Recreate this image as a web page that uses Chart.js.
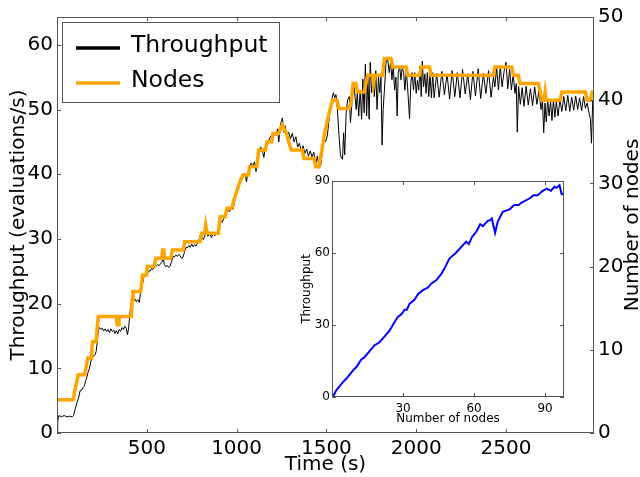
<!DOCTYPE html>
<html>
<head>
<meta charset="utf-8">
<script src="https://cdn.jsdelivr.net/npm/chart.js"></script>
<style>
    body { margin: 0; background: #fff; }
    #wrap { position: relative; width: 640px; height: 477px; }
    #mainChart { position: absolute; left: 0; top: 0; }
    #insetChart { position: absolute; left: 290px; top: 170px; }
</style>
</head>
<body>
<div id="wrap">
    <canvas id="mainChart" width="640" height="477"></canvas>
    <canvas id="insetChart" width="280" height="260"></canvas>
</div>
<script>
// throughput over time (evaluations/s), left axis
const throughputTime = [
    0, 4, 10, 25, 40, 55, 70, 85, 92, 100,
    110, 120, 128, 136, 145, 153, 160, 166, 173, 181,
    188, 196, 205, 212, 218, 224, 230, 236, 244, 252,
    260, 268, 276, 284, 292, 300, 308, 316, 322, 330,
    338, 346, 354, 362, 370, 378, 386, 392, 398, 404,
    410, 418, 426, 434, 442, 450, 458, 464, 470, 478,
    486, 494, 502, 510, 518, 526, 534, 544, 552, 560,
    568, 576, 584, 592, 598, 606, 614, 622, 630, 638,
    646, 654, 662, 670, 678, 686, 694, 702, 710, 718,
    726, 734, 742, 750, 758, 766, 774, 782, 790, 797,
    805, 815, 825, 832, 840, 850, 860, 870, 880, 890,
    900, 909, 920, 930, 940, 950, 960, 970, 980, 990,
    1000, 1010, 1020, 1030, 1040, 1050, 1055, 1062, 1070, 1080,
    1090, 1100, 1108, 1115, 1125, 1135, 1145, 1152, 1160, 1170,
    1180, 1190, 1200, 1210, 1220, 1228, 1235, 1242, 1250, 1255,
    1262, 1270, 1280, 1290, 1300, 1310, 1320, 1330, 1340, 1350,
    1360, 1370, 1380, 1390, 1400, 1410, 1420, 1430, 1440, 1450,
    1460, 1468, 1480, 1487, 1495, 1505, 1515, 1524, 1532, 1539,
    1546, 1553, 1560, 1570, 1578, 1584, 1590, 1596, 1602, 1610,
    1618, 1627, 1634, 1641, 1648, 1655, 1660, 1666, 1672, 1680,
    1688, 1696, 1703, 1710, 1717, 1724, 1731, 1738, 1744, 1752,
    1760, 1767, 1775, 1782, 1790, 1797, 1804, 1810, 1816, 1823,
    1832, 1841, 1850, 1858, 1865, 1872, 1880, 1887, 1894, 1900,
    1908, 1915, 1922, 1930, 1937, 1945, 1952, 1963, 1970, 1977,
    1985, 1992, 2000, 2007, 2014, 2022, 2028, 2034, 2041, 2048,
    2055, 2062, 2070, 2077, 2085, 2092, 2100, 2114, 2128, 2143,
    2157, 2172, 2186, 2200, 2215, 2229, 2244, 2258, 2273, 2287,
    2302, 2316, 2330, 2345, 2359, 2374, 2388, 2403, 2417, 2430,
    2438, 2448, 2458, 2468, 2478, 2490, 2500, 2510, 2520, 2530,
    2540, 2550, 2557, 2563, 2570, 2580, 2590, 2600, 2612, 2624,
    2636, 2648, 2660, 2672, 2684, 2695, 2703, 2710, 2717, 2724,
    2732, 2740, 2748, 2756, 2764, 2772, 2780, 2790, 2800, 2811,
    2822, 2833, 2844, 2855, 2866, 2877, 2888, 2899, 2910, 2921,
    2932, 2942, 2952, 2962, 2970, 2976, 2983, 2990
];
const throughputValues = [
    0, 1.8, 2.7, 2.5, 2.7, 2.5, 2.6, 2.5, 2.7, 3.6,
    4.6, 5.4, 6.5, 6.6, 7.0, 7.3, 8.1, 8.6, 9.4, 10.0,
    11.0, 11.7, 11.9, 12.1, 12.6, 14.0, 15.8, 16.3, 16.0, 16.2,
    15.8, 16.1, 15.7, 16.0, 15.5, 16.1, 15.7, 15.9, 15.4, 15.8,
    15.3, 16.0, 15.7, 16.3, 16.0, 16.5, 16.2, 15.2, 16.0, 17.8,
    19.6, 20.5, 20.4, 20.7, 20.3, 20.6, 20.2, 21.5, 23.0, 23.2,
    24.5, 24.7, 24.4, 25.1, 25.0, 25.4, 25.3, 25.7, 25.8, 26.0,
    25.9, 26.1, 26.4, 26.9, 26.0, 25.7, 25.9, 25.6, 25.8, 26.5,
    27.3, 27.2, 27.5, 27.3, 27.6, 27.4, 27.0, 27.2, 28.0, 28.7,
    28.6, 29.0, 28.7, 29.2, 28.8, 29.1, 28.9, 29.4, 29.8, 30.5,
    30.2, 29.9, 30.6, 31.8, 30.4, 30.8, 30.2, 30.9, 30.5, 31.0,
    31.5, 32.9, 32.6, 33.2, 33.9, 34.5, 34.2, 34.8, 34.5, 36.0,
    37.5, 38.4, 39.3, 39.7, 40.1, 39.8, 38.8, 40.2, 40.5, 41.7,
    41.3, 41.9, 40.4, 41.6, 43.6, 44.2, 43.4, 42.6, 44.3, 44.5,
    45.3, 45.9, 45.2, 46.3, 46.0, 47.0, 45.0, 47.2, 48.3, 48.7,
    46.5, 47.5, 45.9, 46.5, 45.5, 46.3, 45.0, 45.8, 44.2, 44.8,
    43.5, 44.4, 43.2, 43.9, 42.8, 43.6, 42.7, 43.4, 41.5, 42.8,
    41.0, 41.3, 44.0, 45.4, 45.0, 45.9, 48.5, 50.5, 51.8, 52.6,
    51.8, 52.3, 50.5, 46.0, 43.0, 42.5, 42.3, 46.4, 43.0, 49.5,
    51.5, 52.0, 48.0, 50.5, 53.9, 53.5, 51.8, 50.0, 52.6, 49.0,
    53.0, 48.5, 54.7, 49.5, 57.0, 49.0, 55.0, 48.5, 57.3, 52.6,
    55.0, 52.0, 56.0, 50.0, 55.0, 52.6, 55.0, 44.5, 50.0, 53.0,
    57.3, 57.8, 55.7, 57.5, 54.6, 56.7, 53.0, 55.0, 49.0, 55.7,
    56.7, 54.6, 56.5, 55.7, 53.0, 56.0, 53.5, 48.6, 54.0, 55.7,
    53.0, 55.7, 52.5, 54.5, 53.0, 56.7, 52.0, 57.5, 53.5, 55.5,
    52.5, 55.7, 52.0, 55.5, 51.8, 55.7, 51.8, 55.6, 51.9, 55.9,
    52.3, 55.5, 51.6, 56.0, 52.0, 55.7, 51.8, 56.2, 52.4, 55.5,
    51.5, 55.9, 52.1, 56.3, 51.7, 55.6, 52.5, 56.0, 51.9, 55.0,
    53.5, 56.5, 53.0, 56.8, 53.5, 56.0, 57.3, 53.2, 56.2, 53.0,
    55.5, 52.5, 54.0, 46.5, 53.6, 50.8, 53.4, 50.5, 53.6, 50.7,
    53.2, 50.6, 53.5, 50.8, 53.0, 50.0, 51.5, 46.4, 51.0, 48.1,
    51.4, 49.0, 51.3, 48.3, 51.6, 48.8, 51.2, 49.0, 51.5, 49.7,
    52.0, 49.8, 52.2, 49.7, 51.9, 49.9, 52.1, 50.0, 51.8, 49.8,
    52.0, 50.2, 51.0, 49.5, 48.5, 44.8, 51.5, 51.0
];

// number of nodes over time, right axis
const nodesTime = [
    0, 91, 98, 108, 118, 153, 163, 171, 190, 194,
    199, 218, 225, 231, 330, 335, 340, 345, 414, 418,
    423, 466, 471, 476, 498, 503, 541, 550, 583, 588,
    594, 599, 633, 643, 703, 712, 796, 806, 822, 828,
    836, 899, 903, 909, 936, 946, 974, 985, 1000, 1015,
    1035, 1067, 1072, 1112, 1118, 1123, 1160, 1170, 1196, 1202,
    1234, 1254, 1278, 1290, 1305, 1366, 1375, 1431, 1441, 1458,
    1475, 1490, 1510, 1534, 1560, 1570, 1627, 1640, 1649, 1664,
    1673, 1711, 1720, 1730, 1757, 1762, 1770, 1813, 1818, 1823,
    1860, 1869, 1944, 1953, 2018, 2028, 2074, 2083, 2429, 2438,
    2532, 2541, 2569, 2578, 2681, 2690, 2700, 2712, 2718, 2724,
    2802, 2811, 2942, 2952, 2970, 2980, 2990
];
const nodesCount = [
    4, 4, 5, 6, 7, 7, 8, 9, 9, 10,
    11, 11, 13, 14, 14, 13, 13, 14, 14, 16,
    17, 17, 18, 19, 19, 20, 20, 21, 21, 22,
    22, 21, 21, 22, 22, 23, 23, 24, 24, 25,
    24, 24, 25, 26, 26, 27, 27, 28, 29, 30,
    31, 31, 32, 32, 33, 34, 34, 35, 35, 36,
    36, 37, 36, 35, 34, 34, 33, 33, 32, 32,
    34, 36, 38, 40, 40, 39, 39, 40, 42, 42,
    41, 41, 42, 43, 43, 42, 43, 43, 44, 45,
    45, 44, 44, 43, 43, 44, 44, 43, 43, 44,
    44, 43, 43, 42, 42, 41, 40, 40, 41, 40,
    40, 41, 41, 40, 40, 41, 41
];

// inset: throughput against number of nodes
const insetNodes = [
    0.4, 1.8, 4.7, 6.1, 8.9, 10.3, 12.4, 13.8, 18, 19.8,
    21.5, 24.3, 25.7, 27.8, 29.3, 30.7, 31.6, 32.8, 34.9, 36.3,
    38.4, 40.5, 41.9, 44, 46.1, 47.5, 49.6, 52.4, 55.3, 56.7,
    57.8, 59.2, 60.9, 62.6, 63.7, 65.8, 66.8, 67.5, 68.9, 70,
    72.1, 75, 77, 78.9, 79.9, 83.4, 85.1, 86.9, 89, 90.7,
    92.5, 93.9, 94.9, 96.1, 97, 97.9
];
const insetThroughput = [
    0, 2.8, 6.3, 7.7, 11.1, 12.5, 15.6, 16.7, 21.6, 22.6,
    24.4, 27.6, 30, 33.4, 34.5, 36.4, 36.4, 38.9, 40.6, 42.8,
    44.5, 45.6, 47.2, 48.6, 51.2, 53.5, 57.7, 60.1, 63.3, 64.7,
    63.7, 66.8, 68.8, 72, 71.2, 73.4, 73.7, 74.4, 68.4, 73,
    77.2, 78.2, 80, 80, 80.9, 82.7, 84.1, 84.1, 85.9, 86.8,
    85.9, 87.6, 87.2, 88.3, 84.5, 84.8
];

// tick labels
const timeTicks = [500, 1000, 1500, 2000, 2500];
const throughputTicks = [0, 10, 20, 30, 40, 50, 60];
const nodesTicks = [0, 10, 20, 30, 40, 50];
const insetNodeTicks = [30, 60, 90];
const insetThroughputTicks = [0, 30, 60, 90];

const FRAME = '#555';
Chart.defaults.font.family = "'DejaVu Sans', sans-serif";
Chart.defaults.color = '#000';

function toPoints(xs, ys) {
    return xs.map((x, i) => ({ x: x, y: ys[i] }));
}

function fixedTicks(values) {
    return scale => { scale.ticks = values.map(v => ({ value: v })); };
}

// plain numbers, no thousands separator
const plainLabel = v => String(v);
const noGrid = { display: false, drawTicks: false };

// matplotlib-style box around the plot with short inward ticks
const frameTicks = {
    id: 'frameTicks',
    afterDatasetsDraw(chart, args, opts) {
        const ctx = chart.ctx;
        const a = chart.chartArea;
        const len = 4;
        ctx.save();
        ctx.strokeStyle = FRAME;
        ctx.lineWidth = 1;
        ctx.beginPath();
        for (const [id, sides] of Object.entries(opts.sides)) {
            const scale = chart.scales[id];
            scale.ticks.forEach(t => {
                const p = Math.round(scale.getPixelForValue(t.value)) + 0.5;
                sides.forEach(side => {
                    if (side === 'bottom') { ctx.moveTo(p, a.bottom); ctx.lineTo(p, a.bottom - len); }
                    if (side === 'top') { ctx.moveTo(p, a.top); ctx.lineTo(p, a.top + len); }
                    if (side === 'left') { ctx.moveTo(a.left, p); ctx.lineTo(a.left + len, p); }
                    if (side === 'right') { ctx.moveTo(a.right, p); ctx.lineTo(a.right - len, p); }
                });
            });
        }
        ctx.stroke();
        ctx.strokeRect(a.left + 0.5, a.top + 0.5, a.right - a.left - 1, a.bottom - a.top - 1);
        ctx.restore();
    }
};

// legend box in the top left corner of the plot
const boxLegend = {
    id: 'boxLegend',
    afterDraw(chart) {
        if (chart.canvas.id !== 'mainChart') return;
        const ctx = chart.ctx;
        ctx.save();
        ctx.fillStyle = '#fff';
        ctx.fillRect(62.5, 22.5, 217, 80);
        ctx.strokeStyle = FRAME;
        ctx.lineWidth = 1;
        ctx.strokeRect(62.5, 22.5, 217, 80);
        ctx.font = "23.5px 'DejaVu Sans'";
        ctx.textBaseline = 'alphabetic';
        chart.data.datasets.forEach((ds, i) => {
            const y = 48 + i * 35;
            ctx.strokeStyle = ds.borderColor;
            ctx.lineWidth = 3.5;
            ctx.beginPath();
            ctx.moveTo(76, y);
            ctx.lineTo(120, y);
            ctx.stroke();
            ctx.fillStyle = '#000';
            ctx.fillText(ds.label, 131, y + 3.7);
        });
        ctx.restore();
    }
};

// right axis title reads bottom to top like the left one
const rightTitle = {
    id: 'rightTitle',
    afterDraw(chart) {
        if (chart.canvas.id !== 'mainChart') return;
        const ctx = chart.ctx;
        const a = chart.chartArea;
        ctx.save();
        ctx.translate(chart.scales.y1.right - 2, (a.top + a.bottom) / 2);
        ctx.rotate(-Math.PI / 2);
        ctx.font = "20px 'DejaVu Sans'";
        ctx.fillStyle = '#000';
        ctx.textAlign = 'center';
        ctx.textBaseline = 'alphabetic';
        ctx.fillText('Number of nodes', 0, 0);
        ctx.restore();
    }
};

function renderMain() {
    const ctx = document.getElementById('mainChart').getContext('2d');
    new Chart(ctx, {
        type: 'line',
        data: {
            datasets: [{
                label: 'Throughput',
                data: toPoints(throughputTime, throughputValues),
                yAxisID: 'y',
                borderColor: '#000',
                borderWidth: 1,
                pointRadius: 0,
                order: 1
            }, {
                label: 'Nodes',
                data: toPoints(nodesTime, nodesCount),
                yAxisID: 'y1',
                borderColor: '#FFA500',
                borderWidth: 3.5,
                pointRadius: 0,
                order: 0
            }]
        },
        options: {
            responsive: false,
            animation: false,
            layout: { padding: { top: 17 } },
            plugins: {
                legend: { display: false },
                tooltip: { enabled: false },
                frameTicks: { sides: { x: ['bottom', 'top'], y: ['left'], y1: ['right'] } }
            },
            scales: {
                x: {
                    type: 'linear', min: 0, max: 2990,
                    grid: noGrid, border: { display: false },
                    afterBuildTicks: fixedTicks(timeTicks),
                    afterFit: s => { s.height = 44; },
                    ticks: { font: { size: 20 }, padding: 4, maxRotation: 0, autoSkip: false, callback: plainLabel },
                    title: { display: true, text: 'Time (s)', font: { size: 20 }, padding: { top: 0, bottom: 0 } }
                },
                y: {
                    position: 'left', min: 0, max: 64.3,
                    grid: noGrid, border: { display: false },
                    afterBuildTicks: fixedTicks(throughputTicks),
                    afterFit: s => { s.width = 57; },
                    ticks: { font: { size: 20 }, padding: 4, callback: plainLabel },
                    title: { display: true, text: 'Throughput (evaluations/s)', font: { size: 20 }, padding: { top: 7, bottom: 0 } }
                },
                y1: {
                    position: 'right', min: 0, max: 50,
                    grid: noGrid, border: { display: false },
                    afterBuildTicks: fixedTicks(nodesTicks),
                    afterFit: s => { s.width = 46; },
                    ticks: { font: { size: 20 }, padding: 4, callback: plainLabel }
                }
            }
        },
        plugins: [frameTicks, boxLegend, rightTitle]
    });
}

function renderInset() {
    const ctx = document.getElementById('insetChart').getContext('2d');
    new Chart(ctx, {
        type: 'line',
        data: {
            datasets: [{
                label: 'Throughput',
                data: toPoints(insetNodes, insetThroughput),
                borderColor: '#0000FF',
                borderWidth: 2,
                pointRadius: 0
            }]
        },
        options: {
            responsive: false,
            animation: false,
            layout: { padding: { top: 11, right: 6 } },
            plugins: {
                legend: { display: false },
                tooltip: { enabled: false },
                frameTicks: { sides: { x: ['bottom', 'top'], y: ['left', 'right'] } }
            },
            scales: {
                x: {
                    type: 'linear', min: 0, max: 98,
                    grid: noGrid, border: { display: false },
                    afterBuildTicks: fixedTicks(insetNodeTicks),
                    afterFit: s => { s.height = 33; },
                    ticks: { font: { size: 12 }, padding: 4.5, maxRotation: 0, autoSkip: false, callback: plainLabel },
                    title: { display: true, text: 'Number of nodes', font: { size: 12 }, padding: { top: 0, bottom: 3.5 } }
                },
                y: {
                    min: 0, max: 90,
                    grid: noGrid, border: { display: false },
                    afterBuildTicks: fixedTicks(insetThroughputTicks),
                    afterFit: s => { s.width = 42; },
                    ticks: { font: { size: 12 }, padding: 2, callback: plainLabel },
                    title: { display: true, text: 'Throughput', font: { size: 12 }, padding: { top: 10, bottom: 0 } }
                }
            }
        },
        plugins: [frameTicks]
    });
}

renderMain();
renderInset();
</script>
</body>
</html>
